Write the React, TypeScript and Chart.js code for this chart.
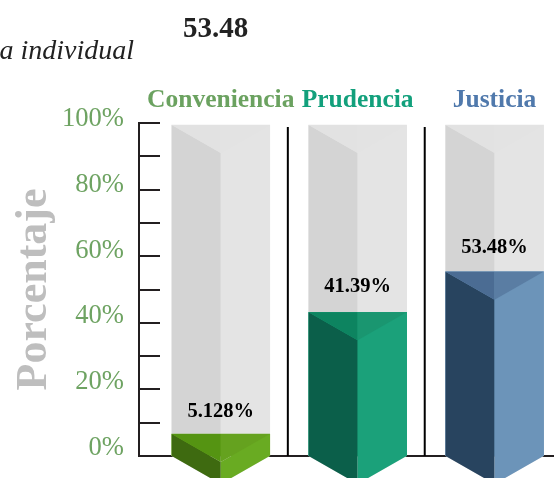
import React, { useEffect, useRef } from "react";
import { Chart, registerables } from "chart.js";

Chart.register(...registerables);

const categories = ["Conveniencia", "Prudencia", "Justicia"];
const values = [5.128, 41.39, 53.48];
const trackValues = [100, 100, 100];
const valueLabels = ["5.128%", "41.39%", "53.48%"];
const categoryColors = ["#6ba260", "#12a07c", "#5079ac"];
const rightFace = ["#69ab22", "#1ba17a", "#6c94b9"];
const leftFace = ["#3e6a10", "#0b5f4a", "#28445f"];
const topLeft = ["#559412", "#0d8460", "#4b6c93"];
const topRight = ["#65a21f", "#1a9670", "#5a7da3"];
const percentTicks = [0, 20, 40, 60, 80, 100];

const SERIF = "'Liberation Serif', serif";
const DEPTH = 28;
const LABEL_LIFT = [22, 26, 24];

function poly(ctx: CanvasRenderingContext2D, pts: number[][], color: string) {
  ctx.fillStyle = color;
  ctx.beginPath();
  pts.forEach((p, i) => (i ? ctx.lineTo(p[0], p[1]) : ctx.moveTo(p[0], p[1])));
  ctx.closePath();
  ctx.fill();
}

const prismPlugin = {
  id: "prism",
  beforeDatasetsDraw(chart: any) {
    const { ctx, scales } = chart;
    const bottom = chart.chartArea.bottom;
    const top = chart.chartArea.top;
    ctx.save();
    ctx.strokeStyle = "#231f20";
    ctx.lineWidth = 2;
    ctx.beginPath();
    ctx.moveTo(scales.yTicks.left, top - 1);
    ctx.lineTo(scales.yTicks.left, bottom + 1);
    ctx.moveTo(scales.yTicks.left, bottom);
    ctx.lineTo(chart.chartArea.right, bottom);
    ctx.stroke();
    ctx.strokeStyle = "#000000";
    ctx.beginPath();
    [0.49, 1.49].forEach((v) => {
      const x = scales.x.getPixelForValue(v);
      ctx.moveTo(x, top + 4);
      ctx.lineTo(x, bottom);
    });
    ctx.stroke();
    ctx.restore();
  },
  afterDatasetDraw(chart: any, args: any) {
    const { ctx } = chart;
    const isTrack = args.index === 1;
    const base = chart.chartArea.bottom;
    ctx.save();
    args.meta.data.forEach((el: any, i: number) => {
      const L = el.x - el.width / 2;
      const R = el.x + el.width / 2;
      const C = el.x;
      const T = el.y;
      const lf = isTrack ? "#d4d4d4" : leftFace[i];
      const rf = isTrack ? "#e4e4e4" : rightFace[i];
      const tl = isTrack ? "#e2e2e2" : topLeft[i];
      const tr = isTrack ? "#e3e3e3" : topRight[i];
      poly(ctx, [[L, T], [C, T + DEPTH], [C, base + DEPTH], [L, base]], lf);
      poly(ctx, [[C, T + DEPTH], [R, T], [R, base], [C, base + DEPTH]], rf);
      poly(ctx, [[L, T], [C, T], [C, T + DEPTH]], tl);
      poly(ctx, [[C, T], [R, T], [C, T + DEPTH]], tr);
      if (!isTrack) {
        ctx.fillStyle = "#000000";
        ctx.font = `bold 20.5px ${SERIF}`;
        ctx.textAlign = "center";
        ctx.textBaseline = "middle";
        ctx.fillText(valueLabels[i], C, T - LABEL_LIFT[i]);
      }
    });
    ctx.restore();
  },
  afterDraw(chart: any) {
    const { ctx } = chart;
    ctx.save();
    ctx.fillStyle = "#222222";
    ctx.textBaseline = "middle";
    ctx.textAlign = "center";
    ctx.font = `bold 29px ${SERIF}`;
    ctx.fillText("53.48", 215.5, 30);
    ctx.textAlign = "right";
    ctx.font = `italic 28px ${SERIF}`;
    ctx.fillText("a individual", 134, 52);
    ctx.restore();
  },
};

export default function App() {
  const ref = useRef<HTMLCanvasElement>(null);
  useEffect(() => {
    document.body.style.margin = "0";
    const chart = new Chart(ref.current as HTMLCanvasElement, {
      type: "bar",
      data: {
        datasets: [
          {
            label: "Porcentaje",
            data: values.map((y, x) => ({ x, y })),
            yAxisID: "yBar",
            base: -1.43,
            barThickness: 98,
            backgroundColor: rightFace,
            borderWidth: 0,
          },
          {
            label: "Total",
            data: trackValues.map((y, x) => ({ x, y })),
            yAxisID: "yTrack",
            barThickness: 98,
            backgroundColor: "#e4e4e4",
            borderWidth: 0,
          },
        ],
      } as any,
      options: {
        animation: false,
        responsive: false,
        grouped: false,
        layout: { padding: { left: 0, right: 37, top: 0, bottom: 22 } },
        plugins: { legend: { display: false }, tooltip: { enabled: false } },
        scales: {
          x: {
            type: "linear",
            position: "top",
            offset: false,
            min: -0.4438,
            max: 2.5,
            grid: { display: false, drawTicks: false },
            border: { display: false },
            afterFit: (s: any) => {
              s.height = 123;
              s.paddingLeft = 0;
              s.paddingRight = 0;
            },
            ticks: {
              stepSize: 1,
              includeBounds: false,
              autoSkip: false,
              maxRotation: 0,
              padding: 7,
              font: { family: SERIF, size: 25.5, weight: "bold" },
              color: (c: any) => categoryColors[c.index],
              callback: (v: any) => categories[v] ?? "",
            },
          },
          yTicks: {
            position: "left",
            axis: "y",
            min: 0,
            max: 100,
            weight: 1,
            afterFit: (s: any) => { s.width = 21; s.paddingTop = 0; s.paddingBottom = 0; },
            border: { display: false },
            grid: {
              drawOnChartArea: false,
              drawTicks: true,
              tickLength: 21,
              color: "#231f20",
              lineWidth: 2,
            },
            ticks: { display: false, stepSize: 10, includeBounds: false },
          },
          yLabels: {
            position: "left",
            axis: "y",
            min: -2.44,
            max: 98.78,
            weight: 5,
            afterFit: (s: any) => { s.width = 139; s.paddingTop = 0; s.paddingBottom = 0; },
            afterBuildTicks: (s: any) => { s.ticks = percentTicks.map((value) => ({ value })); },
            border: { display: false },
            grid: { display: false, drawTicks: false },
            title: {
              display: true,
              text: "Porcentaje",
              color: "#bebebe",
              font: { family: SERIF, size: 44, weight: "bold" },
              padding: { top: 8, bottom: 0 },
            },
            ticks: {
              autoSkip: false,
              padding: 15,
              color: "#6ea362",
              font: { family: SERIF, size: 26.6 },
              callback: (v: any) => `${v}%`,
            },
          },
          yBar: { display: false, axis: "y", min: -1.43, max: 97.76 },
          yTrack: { display: false, axis: "y", min: 0, max: 100.6 },
        },
      } as any,
      plugins: [prismPlugin],
    });
    return () => chart.destroy();
  }, []);
  return (
    <div style={{ position: "absolute", left: 0, top: 0, width: 554, height: 478, overflow: "hidden", background: "#fff" }}>
      <canvas ref={ref} width={600} height={478} style={{ display: "block" }} />
    </div>
  );
}
